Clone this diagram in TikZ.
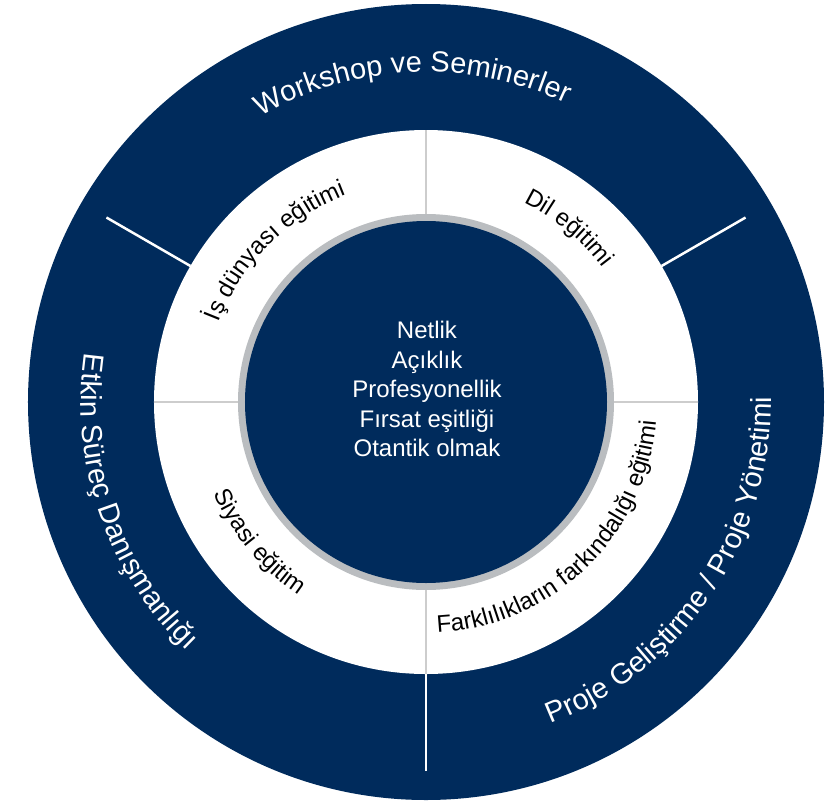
\documentclass[tikz,border=0pt]{standalone}
\usepackage{fontspec}
\setmainfont{Liberation Sans}
\usetikzlibrary{decorations.text}
\definecolor{navy}{RGB}{0,43,92}
\definecolor{ringgray}{RGB}{186,189,192}
\definecolor{sepgray}{RGB}{205,205,205}
\tikzset{
  outertext/.style={decorate,decoration={text along path,text align=center,
    text={|\color{white}\fontsize{29pt}{29pt}\selectfont|#1}}},
  innertext/.style={decorate,decoration={text along path,text align=center,
    text={|\fontsize{24pt}{24pt}\selectfont|#1}}},
  whitesep/.style={white,line width=2.5pt},
  graysep/.style={sepgray,line width=1.2pt}
}
\begin{document}
\begin{tikzpicture}[x=1pt,y=1pt]
\useasboundingbox (-426,-402) rectangle (400,402);
% rings
\fill[navy] (0,0) circle[radius=398pt];
\fill[white] (0,0) circle[radius=272pt];
\fill[ringgray] (0,0) circle[radius=188pt];
\fill[navy] (0,0) circle[radius=181pt];
% separators
\draw[graysep] (90:188pt) -- (90:272pt);
\draw[graysep] (180:188pt) -- (180:272pt);
\draw[graysep] (0:188pt) -- (0:272pt);
\draw[graysep] (270:188pt) -- (270:272pt);
\draw[whitesep] (150:272pt) -- (150:369pt);
\draw[whitesep] (30:272pt) -- (30:369pt);
\draw[whitesep] (270:272pt) -- (270:369pt);
% outer ring
\path[outertext={Workshop ve Seminerler}] (152.5:330pt) arc[start angle=152.5,end angle=32.5,radius=330pt];
\path[outertext={Etkin Süreç Danışmanlığı}] (139:345pt) arc[start angle=139,end angle=259,radius=345pt];
\path[outertext={Proje Geliştirme / Proje Yönetimi}] (266:345pt) arc[start angle=266,end angle=386,radius=345pt];
% inner ring
\path[innertext={İş dünyası eğitimi}] (185:222pt) arc[start angle=185,end angle=85,radius=222pt];
\path[innertext={Dil eğitimi}] (100.5:222pt) arc[start angle=100.5,end angle=0.5,radius=222pt];
\path[innertext={Siyasi eğitim}] (170:231pt) arc[start angle=170,end angle=270,radius=231pt];
\path[innertext={Farklılıkların farkındalığı eğitimi}] (254:231pt) arc[start angle=254,end angle=374,radius=231pt];
% centre
\node[text=white,align=center,font=\fontsize{24pt}{29.5pt}\selectfont] (values) at (1,13) {Netlik\\Açıklık\\Profesyonellik\\Fırsat eşitliği\\Otantik olmak};
\end{tikzpicture}
\end{document}
